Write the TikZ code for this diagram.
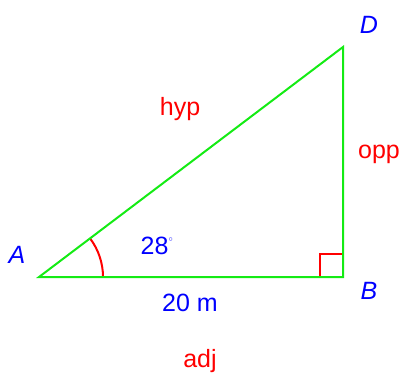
\documentclass[tikz,border=0pt]{standalone}
\usepackage{fontspec}
\setmainfont{Liberation Sans}
\begin{document}
\begin{tikzpicture}[x=1pt,y=-1pt,
  side/.style={draw={rgb,255:red,20;green,235;blue,20}, line width=2pt},
  mark2/.style={draw=red, line width=2pt},
  lbl/.style={font=\fontsize{25}{28}\selectfont, anchor=base, inner sep=0pt},
  ptlbl/.style={lbl, text=blue, font=\fontsize{25}{28}\selectfont\itshape},
  redlbl/.style={lbl, text=red},
  bluelbl/.style={lbl, text=blue}]
\useasboundingbox (0,0) rectangle (403,372);
\coordinate (A) at (39,277);
\coordinate (B) at (343,277);
\coordinate (D) at (343,47);
\draw[mark2] (320,277) -- (320,254) -- (343,254);
\draw[mark2] (103,277) arc[start angle=0, end angle=-37.1, radius=64];
\draw[side, line join=miter] (A) -- (B) -- (D) -- cycle;
\node[ptlbl] (lA) at (17,263) {A};
\node[ptlbl] (lB) at (369,299) {B};
\node[ptlbl] (lD) at (369,33) {D};
\node[redlbl] (hyp) at (180,115) {hyp};
\node[redlbl] (opp) at (379,158) {opp};
\node[redlbl] (adj) at (200,367) {adj};
\node[bluelbl] (ang) at (157,254) {28\raisebox{8pt}{\fontsize{12}{12}\selectfont$^\circ$}};
\node[bluelbl] (len) at (190,311) {20 m};
\end{tikzpicture}
\end{document}
